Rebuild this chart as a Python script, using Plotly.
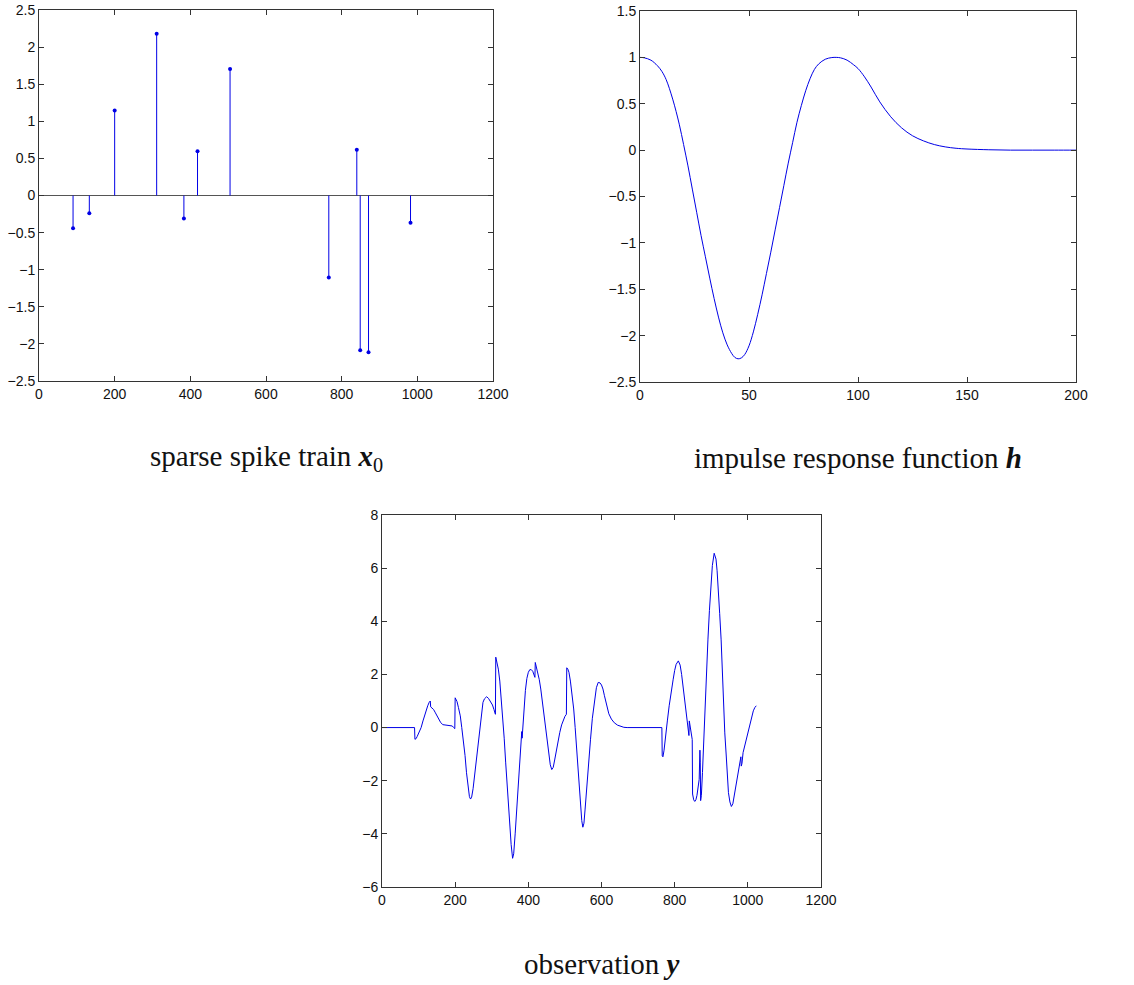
import plotly.graph_objects as go

# ---------------- data ----------------
spike_pos = [90, 133, 200, 311, 383, 419, 505, 766, 840, 849, 871, 982]
spike_amp = [-0.44, -0.24, 1.145, 2.18, -0.31, 0.597, 1.706, -1.104, 0.615, -2.087, -2.114, -0.368]

h_t = [0, 2, 5, 8, 10, 12, 15, 18, 20, 22, 24, 26, 28, 30, 32, 34, 36, 38, 40, 42, 43.5, 45,
       46.5, 48, 50, 52, 54, 56, 58, 60, 62, 64, 66, 68, 70, 72, 74, 76, 78, 80, 82, 85, 88, 90,
       92, 95, 98, 100, 103, 106, 110, 115, 120, 125, 130, 135, 140, 145, 150, 160, 170,
       180, 190, 200]
h_val = [1.0, 0.995, 0.97, 0.91, 0.85, 0.76, 0.55, 0.28, 0.06, -0.17, -0.42, -0.67, -0.92,
         -1.15, -1.38, -1.60, -1.80, -1.97, -2.10, -2.19, -2.235, -2.25,
         -2.24, -2.205, -2.11, -1.96, -1.77, -1.56, -1.33, -1.10, -0.86, -0.62, -0.38, -0.14,
         0.08, 0.30, 0.48, 0.64, 0.77, 0.87, 0.93, 0.98, 0.998, 1.0,
         0.995, 0.97, 0.92, 0.88, 0.79, 0.68, 0.52, 0.36, 0.24, 0.155, 0.10, 0.06, 0.035,
         0.02, 0.012, 0.004, 0.0, 0.0, 0.0, 0.0]

obs_t = [0, 89, 90, 93, 96, 100, 104, 107, 112, 116, 120, 125, 129, 132, 133, 137, 141, 145,
         150, 155, 160, 166, 175, 185, 192, 196, 199, 200, 203, 205, 209, 214, 218, 223, 227,
         231, 235, 239, 242, 245, 249, 254, 259, 264, 267, 270, 273, 276, 280, 286, 291, 297,
         302, 306, 310, 311, 314, 318, 322, 326, 330, 334, 338, 342, 346, 350, 353, 357, 360,
         364, 368, 372, 376, 380, 382, 383, 386, 389, 392, 396, 400, 404, 408, 412, 416, 418,
         419, 422, 425, 430, 434, 440, 445, 450, 455, 460, 464, 468, 472, 476, 481, 486, 491,
         496, 500, 504, 505, 508, 511, 515, 519, 524, 528, 531, 534, 538, 542, 546, 549, 552,
         555, 559, 564, 570, 575, 581, 586, 591, 596, 600, 604, 608, 614, 620, 627, 635, 644,
         652, 661, 670, 765, 766, 768, 771, 775, 780, 785, 790, 796, 800, 804, 810, 815, 819,
         823, 827, 831, 835, 838, 839, 840, 841, 843, 846, 848, 849, 852, 855, 858, 861, 864,
         867, 869, 870, 871, 873, 876, 879, 883, 887, 891, 895, 899, 903, 908, 913, 916, 920,
         923, 927, 930, 934, 937, 941, 944, 947, 951, 955, 959, 964, 968, 972, 976, 979, 981,
         982, 984, 987, 991, 996, 1001, 1006, 1011, 1015, 1019, 1023]
obs_y = [0, 0, -0.44, -0.42, -0.34, -0.22, -0.08, 0.0, 0.25, 0.45, 0.62, 0.82, 0.95, 1.0,
         0.78, 0.74, 0.68, 0.58, 0.45, 0.32, 0.2, 0.11, 0.1, 0.09, 0.06, 0.0, -0.04, 1.12,
         1.05, 0.98, 0.75, 0.44, 0.0, -0.5, -1.05, -1.7, -2.25, -2.6, -2.69, -2.62, -2.3,
         -1.7, -1.05, -0.44, 0.0, 0.4, 0.75, 0.95, 1.08, 1.16, 1.1, 0.98, 0.85, 0.68, 0.5,
         2.65, 2.5, 2.2, 1.75, 1.1, 0.4, -0.4, -1.3, -2.2, -3.0, -3.8, -4.4, -4.92, -4.75,
         -4.0, -3.1, -2.15, -1.3, -0.55, -0.15, -0.4, 0.25, 0.9, 1.4, 1.85, 2.08, 2.18, 2.18,
         2.12, 2.0, 1.89, 2.45, 2.3, 2.15, 1.8, 1.45, 0.8, 0.19, -0.4, -0.95, -1.4, -1.58,
         -1.5, -1.22, -0.88, -0.52, -0.18, 0.1, 0.3, 0.42, 0.5, 2.25, 2.2, 2.08, 1.75, 1.3,
         0.7, 0.0, -0.55, -1.1, -2.0, -2.9, -3.5, -3.75, -3.6, -3.1, -2.34, -1.35, -0.44,
         0.35, 1.07, 1.5, 1.70, 1.68, 1.6, 1.45, 1.2, 0.82, 0.52, 0.32, 0.18, 0.09, 0.04,
         0.01, 0.0, 0.0, -1.07, -1.1, -0.85, -0.44, 0.25, 0.82, 1.35, 1.82, 2.15, 2.38, 2.51,
         2.35, 2.0, 1.55, 1.07, 0.6, 0.19, -0.1, -0.3, 0.25, 0.15, -0.05, -0.35, -0.45, -2.5,
         -2.72, -2.78, -2.72, -2.55, -2.3, -1.95, -0.85, -1.3, -2.75, -2.55, -1.69, -0.6, 0.85,
         2.2, 3.33, 4.4, 5.25, 6.1, 6.56, 6.34, 5.9, 5.15, 4.3, 3.3, 2.1, 0.82, -0.2, -1.07,
         -1.85, -2.45, -2.8, -2.97, -2.87, -2.45, -2.05, -1.69, -1.4, -1.19, -1.1, -1.45,
         -1.35, -0.94, -0.7, -0.44, -0.15, 0.19, 0.42, 0.63, 0.75, 0.82]

captions = ["sparse spike train <b><i>x</i></b><sub>0</sub>",
            "impulse response function <b><i>h</i></b>",
            "observation <b><i>y</i></b>"]

# ---------------- figure ----------------
W, H = 1134, 985
BLUE = "#0000e6"
AX = "#333333"

def dom_x(a, b):
    return [a / W, b / W]

def dom_y(top, bottom):
    return [1 - bottom / H, 1 - top / H]

fig = go.Figure()

# baseline of the stem plot, spanning the axis range
fig.add_trace(go.Scatter(x=[0, 1200], y=[0, 0], mode="lines",
                         line=dict(color="#555555", width=1), xaxis="x", yaxis="y",
                         showlegend=False, hoverinfo="skip"))

# stems built from the spike arrays
stem_x, stem_y = [], []
for p, a in zip(spike_pos, spike_amp):
    stem_x += [p, p, None]
    stem_y += [0, a, None]
fig.add_trace(go.Scatter(x=stem_x, y=stem_y, mode="lines",
                         line=dict(color=BLUE, width=1), xaxis="x", yaxis="y",
                         showlegend=False, hoverinfo="skip"))
fig.add_trace(go.Scatter(x=spike_pos, y=spike_amp, mode="markers",
                         marker=dict(color=BLUE, size=4), xaxis="x", yaxis="y",
                         showlegend=False))

fig.add_trace(go.Scatter(x=h_t, y=h_val, mode="lines", line=dict(color=BLUE, width=1),
                         line_shape="spline", xaxis="x2", yaxis="y2", showlegend=False))

fig.add_trace(go.Scatter(x=obs_t, y=obs_y, mode="lines", line=dict(color=BLUE, width=1),
                         xaxis="x3", yaxis="y3", showlegend=False))

tickfont = dict(family="Liberation Sans, Arial, sans-serif", size=14, color="#111")
common = dict(showline=True, linecolor=AX, linewidth=1, mirror="ticks", ticks="inside",
              ticklen=5, tickcolor=AX, showgrid=False, zeroline=False, tickfont=tickfont,
              automargin=False)

fig.update_layout(
    width=W, height=H,
    margin=dict(l=0, r=0, t=0, b=0, autoexpand=False),
    paper_bgcolor="white", plot_bgcolor="white",
    xaxis=dict(domain=dom_x(39, 493), range=[0, 1200], dtick=200, anchor="y", **common),
    yaxis=dict(domain=dom_y(10, 381), range=[-2.5, 2.5], dtick=0.5, anchor="x", **common),
    xaxis2=dict(domain=dom_x(640, 1076), range=[0, 200], dtick=50, anchor="y2", **common),
    yaxis2=dict(domain=dom_y(11, 382), range=[-2.5, 1.5], dtick=0.5, anchor="x2", **common),
    xaxis3=dict(domain=dom_x(382, 821), range=[0, 1200], dtick=200, anchor="y3", **common),
    yaxis3=dict(domain=dom_y(515, 887), range=[-6, 8], dtick=2, anchor="x3", **common),
)

capfont = dict(family="Liberation Serif, Times New Roman, serif", size=29, color="#111")
cap_pos = [((39 + 493) / 2, 458), ((640 + 1076) / 2, 458), ((382 + 821) / 2, 964)]
for text, (cx, cy) in zip(captions, cap_pos):
    fig.add_annotation(text=text, x=cx / W, y=1 - cy / H, xref="paper", yref="paper",
                       showarrow=False, xanchor="center", yanchor="middle", font=capfont)

fig.write_html("out.html", config={"displayModeBar": False},
               post_script="document.body.style.margin='0';document.body.style.overflow='hidden';")
